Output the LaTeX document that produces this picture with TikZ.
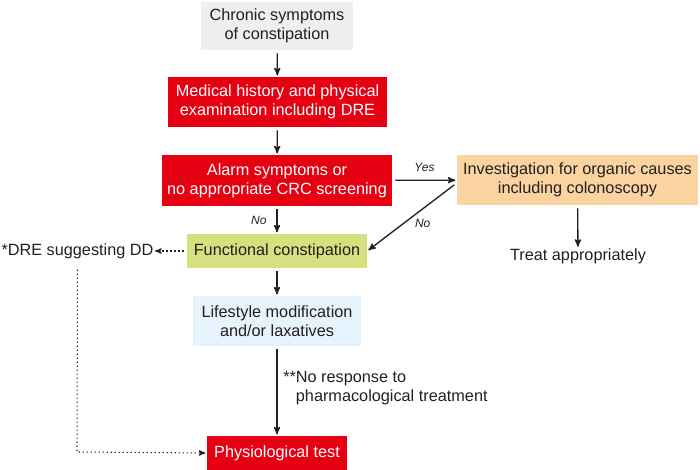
\documentclass[tikz,border=0pt]{standalone}
\usepackage{fontspec}
\setmainfont{Liberation Sans}
\usetikzlibrary{calc,positioning,arrows}
\definecolor{boxgrey}{HTML}{EFEFEF}
\definecolor{boxred}{HTML}{E50012}
\definecolor{boxorange}{HTML}{FBD3A0}
\definecolor{boxgreen}{HTML}{D5E17E}
\definecolor{boxblue}{HTML}{E7F3FC}
\definecolor{ink}{HTML}{231F20}
\tikzset{
  stepbox/.style  = {shape=rectangle, align=center, inner sep=0pt,
                     text=ink, font=\fontsize{12.2}{14.2}\selectfont},
  greybox/.style  = {stepbox, fill=boxgrey},
  redbox/.style   = {stepbox, fill=boxred, text=white},
  orangebox/.style= {stepbox, fill=boxorange},
  greenbox/.style = {stepbox, fill=boxgreen},
  bluebox/.style  = {stepbox, fill=boxblue},
  plain/.style    = {stepbox, align=left},
  answer/.style   = {font=\fontsize{9}{10}\selectfont\itshape, text=ink},
  flow/.style     = {draw=ink, line width=1pt, shorten <=2.25pt, shorten >=1pt}
}

\begin{document}
\begin{tikzpicture}[->,>=stealth',x=0.75pt,y=-0.75pt]
\useasboundingbox (0,0) rectangle (700,470);
\node [greybox, minimum width=114pt, minimum height=36pt] (chronic) at (277,26)
  {Chronic symptoms\\of constipation};
\node [redbox, minimum width=164.25pt, minimum height=37.5pt] (history) at (277.5,102)
  {Medical history and physical\\examination including DRE};
\node [redbox, minimum width=172.5pt, minimum height=38.25pt] (alarm) at (277,180.5)
  {Alarm symptoms or\\no appropriate CRC screening};
\node [orangebox, minimum width=180.75pt, minimum height=37.5pt] (invest) at (577.5,180)
  {Investigation for organic causes\\including colonoscopy};
\node [greenbox, minimum width=135pt, minimum height=25.5pt] (func) at (277,251)
  {Functional constipation};
\node [plain] (treat) at (578,256) {Treat appropriately};
\node [plain] (dre) at (77.5,251) {*DRE suggesting DD};
\node [bluebox, minimum width=126pt, minimum height=37.5pt] (life) at (277,321)
  {Lifestyle modification\\and/or laxatives};
\node [redbox, minimum width=105pt, minimum height=25.5pt] (physio) at (277,453)
  {Physiological test};
\node [plain, anchor=north west] (noresp) at (283,371)
  {**No response to\\\hphantom{**}pharmacological treatment};
\coordinate (corner) at (77,452);

\draw [flow] (chronic) -- (history);
\draw [flow] (history) -- (alarm);
\draw [flow] (alarm) -- node [answer, left=4pt] {No} (func);
\draw [flow] (alarm) -- node [answer, above=3pt] {Yes} (invest);
\draw [flow] ($(invest.west)+(0,3)$) -- node [answer, xshift=8pt, yshift=-5pt] {No} (func.east);
\draw [flow] (invest) -- (treat);
\draw [flow] (func) -- (life);
\draw [flow] (life) -- (physio);
\draw [flow, dotted, line width=0.8pt] (func) -- (dre);
\draw [flow, dotted, line width=0.8pt, shorten <=8pt] (dre.south) -- (corner) -- (physio.west);
\end{tikzpicture}
\end{document}
